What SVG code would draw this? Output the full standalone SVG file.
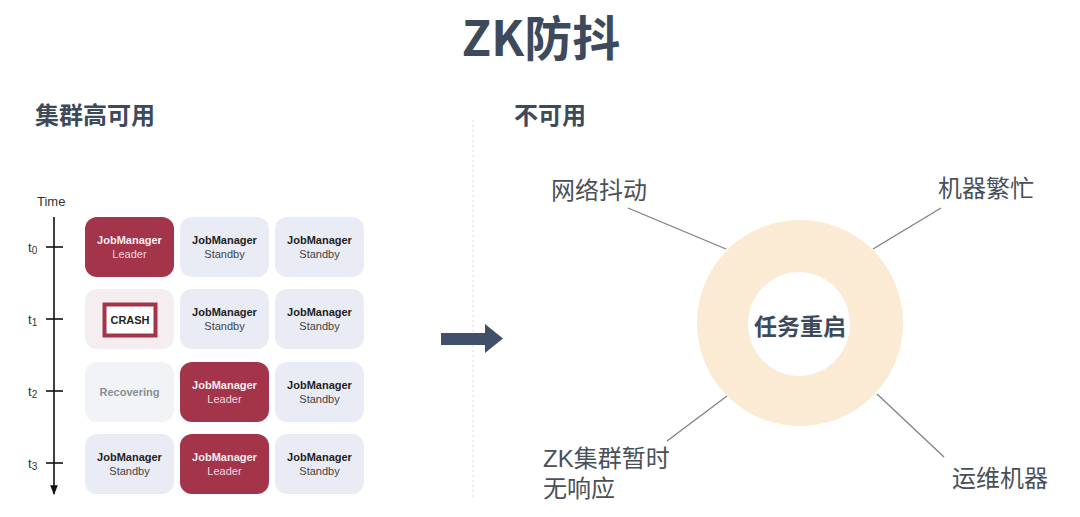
<svg xmlns="http://www.w3.org/2000/svg" width="1080" height="517" viewBox="0 0 1080 517">
<defs>
<style>
.title{font-family:"Noto Sans CJK SC","Liberation Sans",sans-serif;font-weight:700;fill:#3d4a5c}
.lbl{font-family:"Liberation Sans","Noto Sans CJK SC",sans-serif;font-size:24px;fill:#4a5059}
.jm{font-family:"Liberation Sans",Arial,sans-serif;font-size:11px;font-weight:700;text-anchor:middle}
.st{font-family:"Liberation Sans",Arial,sans-serif;font-size:11px;text-anchor:middle}
.lead{fill:#a3344a}
.stand{fill:#e9ecf5}
.axis{font-family:"Liberation Sans",Arial,sans-serif;font-size:13px;fill:#333}
.conn{stroke:#7d7d7d;stroke-width:1.2;fill:none}
</style>
<marker id="ah" viewBox="0 0 10 10" refX="9" refY="5" markerWidth="6" markerHeight="6" orient="auto">
<path d="M0,1 L10,5 L0,9 Z" fill="#111"/>
</marker>
</defs>
<rect width="1080" height="517" fill="#ffffff"/>

<text class="title" x="541" y="56" font-size="48" text-anchor="middle">ZK防抖</text>
<text class="title" x="35" y="124" font-size="24">集群高可用</text>
<text class="title" x="514" y="124" font-size="24">不可用</text>

<line x1="473" y1="120" x2="473" y2="497" stroke="#d8d8d8" stroke-width="1" stroke-dasharray="2,3"/>

<g id="time-axis">
<text class="axis" x="37" y="206">Time</text>
<line x1="54" y1="217" x2="54" y2="494" stroke="#111" stroke-width="1.6" marker-end="url(#ah)"/>
<g stroke="#111" stroke-width="1.6">
<line x1="46" y1="247" x2="63" y2="247"/>
<line x1="46" y1="319" x2="63" y2="319"/>
<line x1="46" y1="391" x2="63" y2="391"/>
<line x1="46" y1="463" x2="63" y2="463"/>
</g>
<text class="axis" x="28" y="252" font-size="14" fill="#444">t<tspan font-size="10" dy="2">0</tspan></text>
<text class="axis" x="28" y="324" font-size="14" fill="#444">t<tspan font-size="10" dy="2">1</tspan></text>
<text class="axis" x="28" y="396" font-size="14" fill="#444">t<tspan font-size="10" dy="2">2</tspan></text>
<text class="axis" x="28" y="468" font-size="14" fill="#444">t<tspan font-size="10" dy="2">3</tspan></text>
</g>

<g id="t0-jm1"><rect class="lead" x="85" y="217" width="89" height="60" rx="12"/><text class="jm" x="129.5" y="244" fill="#fbeef0">JobManager</text><text class="st" x="129.5" y="258" fill="#f3d6dc">Leader</text></g>
<g id="t0-jm2"><rect class="stand" x="180" y="217" width="89" height="60" rx="12"/><text class="jm" x="224.5" y="244" fill="#222">JobManager</text><text class="st" x="224.5" y="258" fill="#444">Standby</text></g>
<g id="t0-jm3"><rect class="stand" x="275" y="217" width="89" height="60" rx="12"/><text class="jm" x="319.5" y="244" fill="#222">JobManager</text><text class="st" x="319.5" y="258" fill="#444">Standby</text></g>

<g id="t1-crash"><rect x="85" y="289" width="89" height="60" rx="12" fill="#f4eef0"/><rect x="104.5" y="304.5" width="51" height="31" fill="#fff" stroke="#a3344a" stroke-width="4"/><text class="jm" x="130" y="324" fill="#222">CRASH</text></g>
<g id="t1-jm2"><rect class="stand" x="180" y="289" width="89" height="60" rx="12"/><text class="jm" x="224.5" y="316" fill="#222">JobManager</text><text class="st" x="224.5" y="330" fill="#444">Standby</text></g>
<g id="t1-jm3"><rect class="stand" x="275" y="289" width="89" height="60" rx="12"/><text class="jm" x="319.5" y="316" fill="#222">JobManager</text><text class="st" x="319.5" y="330" fill="#444">Standby</text></g>

<g id="t2-recover"><rect x="85" y="362" width="89" height="60" rx="12" fill="#f2f3f6"/><text class="jm" x="129.5" y="396" fill="#8a8f94">Recovering</text></g>
<g id="t2-jm2"><rect class="lead" x="180" y="362" width="89" height="60" rx="12"/><text class="jm" x="224.5" y="389" fill="#fbeef0">JobManager</text><text class="st" x="224.5" y="403" fill="#f3d6dc">Leader</text></g>
<g id="t2-jm3"><rect class="stand" x="275" y="362" width="89" height="60" rx="12"/><text class="jm" x="319.5" y="389" fill="#222">JobManager</text><text class="st" x="319.5" y="403" fill="#444">Standby</text></g>

<g id="t3-jm1"><rect class="stand" x="85" y="434" width="89" height="60" rx="12"/><text class="jm" x="129.5" y="461" fill="#222">JobManager</text><text class="st" x="129.5" y="475" fill="#444">Standby</text></g>
<g id="t3-jm2"><rect class="lead" x="180" y="434" width="89" height="60" rx="12"/><text class="jm" x="224.5" y="461" fill="#fbeef0">JobManager</text><text class="st" x="224.5" y="475" fill="#f3d6dc">Leader</text></g>
<g id="t3-jm3"><rect class="stand" x="275" y="434" width="89" height="60" rx="12"/><text class="jm" x="319.5" y="461" fill="#222">JobManager</text><text class="st" x="319.5" y="475" fill="#444">Standby</text></g>

<g id="big-arrow"><path d="M441,333 H485 V324 L503,338.5 L485,353 V345 H441 Z" fill="#3f5068"/></g>

<g id="connectors">
<line class="conn" x1="628" y1="208" x2="726" y2="249"/>
<line class="conn" x1="941" y1="208" x2="873" y2="249"/>
<line class="conn" x1="727" y1="396" x2="667" y2="441"/>
<line class="conn" x1="877" y1="394" x2="944" y2="457"/>
</g>

<g id="restart">
<path d="M800,220 a103,103 0 1,0 0.01,0 Z M799,272 a51,52 0 1,1 -0.01,0 Z" fill="#fbebd4" fill-rule="evenodd"/>
<text class="title" x="800" y="335" font-size="23" text-anchor="middle">任务重启</text>
</g>

<g id="cause-network"><text class="lbl" x="551" y="199">网络抖动</text></g>
<g id="cause-busy"><text class="lbl" x="938" y="197">机器繁忙</text></g>
<g id="cause-zk"><text class="lbl" x="543" y="467">ZK集群暂时</text><text class="lbl" x="543" y="497">无响应</text></g>
<g id="cause-ops"><text class="lbl" x="952" y="487">运维机器</text></g>
</svg>
